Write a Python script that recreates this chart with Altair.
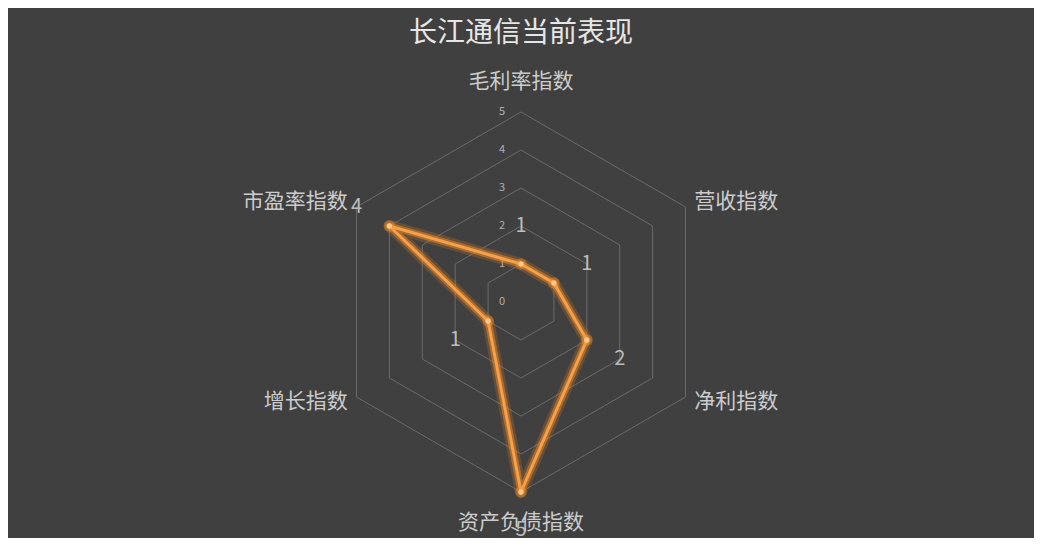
import pandas as pd
import altair as alt

indicators = ['毛利率指数', '营收指数', '净利指数', '资产负债指数', '增长指数', '市盈率指数']
scores = [1, 1, 2, 5, 1, 4]
levels = [0, 1, 2, 3, 4, 5]
sides = ['top', 'right', 'right', 'bottom', 'left', 'left']
title_text = '长江通信当前表现'

FONT = 'Noto Sans CJK SC'
ORANGE = '#f7a04a'

series = pd.DataFrame({'name': indicators, 'value': scores, 'idx': list(range(len(indicators)))})
closed = pd.concat([series, series.iloc[:1].assign(idx=len(indicators))], ignore_index=True)
grid = pd.DataFrame([{'ring': lv, 'idx': k} for lv in levels[1:] for k in range(len(indicators) + 1)])
ticks = pd.DataFrame({'level': levels})
names = pd.DataFrame({'name': indicators, 'idx': list(range(len(indicators))), 'side': sides})

x_scale = alt.Scale(domain=[-13.5, 13.5], nice=False, zero=False)
y_scale = alt.Scale(domain=[-6.2105, 6.158], nice=False, zero=False)


def polar(chart, r_expr):
    return chart.transform_calculate(
        theta='datum.idx * PI / 3',
    ).transform_calculate(
        px='(' + r_expr + ') * sin(datum.theta)',
        py='(' + r_expr + ') * cos(datum.theta)',
    )


def xy():
    return dict(
        x=alt.X('px:Q', scale=x_scale, axis=None),
        y=alt.Y('py:Q', scale=y_scale, axis=None),
    )


rings = polar(alt.Chart(grid), 'datum.ring').mark_line(
    color='#6a6a6a', strokeWidth=1
).encode(order='idx:Q', detail='ring:N', **xy())

tick_labels = alt.Chart(ticks).transform_calculate(
    px='-0.5', py='datum.level'
).mark_text(font=FONT, fontSize=11, color='#b0b0b0', baseline='middle').encode(
    text='level:Q', **xy()
)

glow_wide = polar(alt.Chart(closed), 'datum.value').mark_line(
    color='#ff8a1c', strokeWidth=12, opacity=0.2, strokeJoin='round'
).encode(order='idx:Q', **xy())
glow = polar(alt.Chart(closed), 'datum.value').mark_line(
    color='#ff9326', strokeWidth=7, opacity=0.45, strokeJoin='round'
).encode(order='idx:Q', **xy())
line = polar(alt.Chart(closed), 'datum.value').mark_line(
    color=ORANGE, strokeWidth=3, strokeJoin='round'
).encode(order='idx:Q', **xy())

points_glow = polar(alt.Chart(series), 'datum.value').mark_circle(
    color='#ff9326', size=130, opacity=0.4
).encode(**xy())
points = polar(alt.Chart(series), 'datum.value').mark_circle(
    color='#ffc890', size=28, opacity=1
).encode(**xy())

value_labels = polar(alt.Chart(series), 'datum.value + 1').mark_text(
    font=FONT, fontSize=20, color='#bdbdbd', baseline='middle'
).encode(text='value:Q', **xy())

name_layers = []
for side, align, baseline, gap in [('top', 'center', 'bottom', 20), ('bottom', 'center', 'top', 20),
                                   ('right', 'left', 'middle', 10), ('left', 'right', 'middle', 10)]:
    name_layers.append(
        polar(alt.Chart(names).transform_filter(alt.datum.side == side), '5 + %d / 38' % gap).mark_text(
            font=FONT, fontSize=21, color='#cccccc', align=align, baseline=baseline
        ).encode(text='name:N', **xy())
    )

chart = alt.layer(
    rings, tick_labels, glow_wide, glow, line, points_glow, points, value_labels, *name_layers
).properties(
    width=1026,
    height=470,
    padding={'left': 0, 'top': 60, 'right': 0, 'bottom': 0},
    autosize=alt.AutoSizeParams(type='none'),
    title=alt.TitleParams(title_text, anchor='middle', font=FONT, fontSize=28,
                          fontWeight='normal', color='#e6e6e6', offset=20),
    background='#404040',
).configure_view(stroke=None)

chart.save('out.html', embed_options={'renderer': 'svg', 'actions': False})
